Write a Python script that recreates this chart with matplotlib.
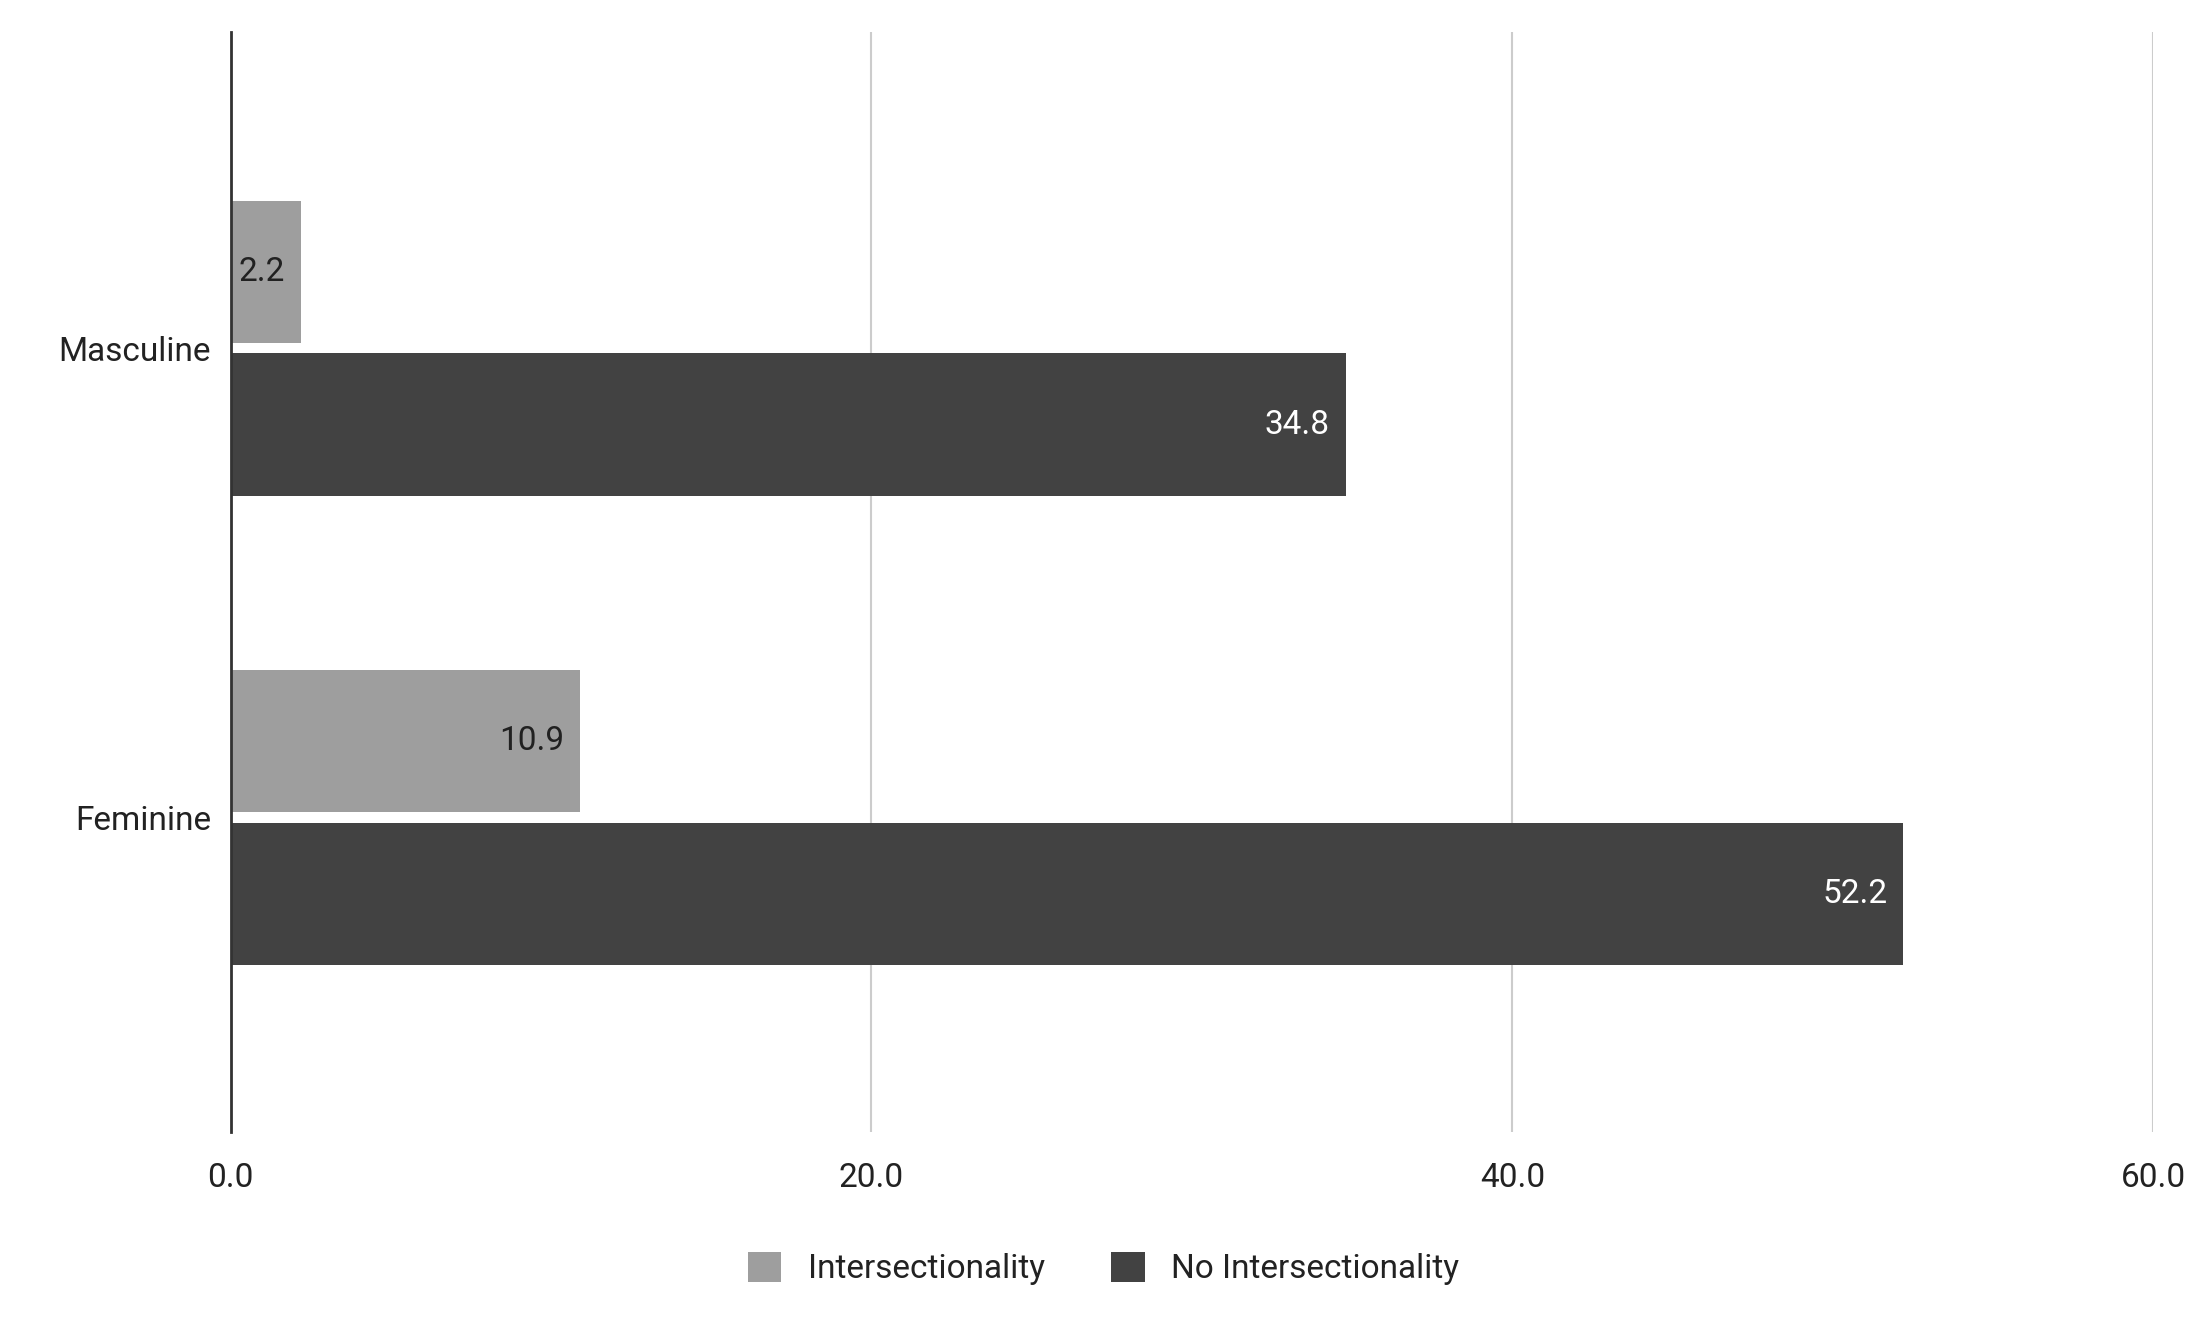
import matplotlib
matplotlib.use("Agg")
import matplotlib.pyplot as plt
import numpy as np

categories = ["Masculine", "Feminine"]
intersectionality = [2.2, 10.9]
no_intersectionality = [34.8, 52.2]
xticks = [0, 20, 40, 60]

plt.rcParams['font.family'] = ['Roboto', 'DejaVu Sans']
fig = plt.figure(figsize=(22.07, 13.2), dpi=100)
ax = fig.add_axes([0.1045, 0.1426, 0.8711, 0.8334])

y = np.arange(len(categories))
h = 0.304
off = 0.163
b1 = ax.barh(y - off, intersectionality, height=h, color="#9e9e9e", label="Intersectionality")
b2 = ax.barh(y + off, no_intersectionality, height=h, color="#424242", label="No Intersectionality")
for v, yy in zip(intersectionality, y - off):
    ax.text(v - 0.5, yy, f"{v:.1f}", ha="right", va="center", fontsize=24, color="#212121")
for v, yy in zip(no_intersectionality, y + off):
    ax.text(v - 0.5, yy, f"{v:.1f}", ha="right", va="center", fontsize=24, color="white")

ax.set_xlim(0, 60)
ax.set_ylim(1.67, -0.675)
ax.set_xticks(xticks)
ax.set_xticklabels([f"{t:.1f}" for t in xticks], fontsize=24, color="#222222")
ax.set_yticks(y)
ax.set_yticklabels(categories, fontsize=24, color="#222222")
ax.tick_params(length=0, pad=14)
ax.tick_params(axis='x', pad=22)
ax.grid(axis='x', color="#cccccc", linewidth=1.5)
ax.set_axisbelow(True)
for s in ["top", "right", "bottom"]:
    ax.spines[s].set_visible(False)
ax.spines["left"].set_color("#333333")
ax.spines["left"].set_linewidth(2)

fig.legend(handles=[b1, b2], loc="center", bbox_to_anchor=(0.5, 0.039), ncol=2,
           frameon=False, fontsize=24, handlelength=1.0, handleheight=1.0,
           columnspacing=2.0, handletextpad=0.8, labelcolor="#222222")
fig.savefig("out.png", dpi=100, facecolor="white")
